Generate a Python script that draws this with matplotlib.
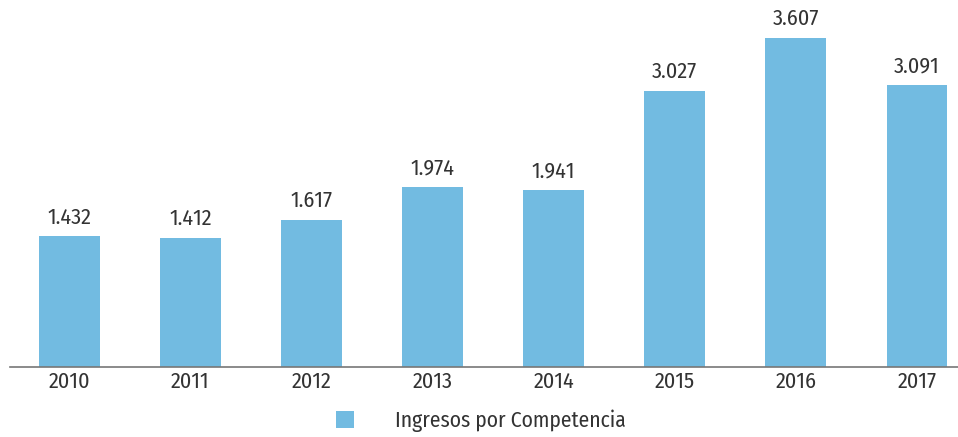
import matplotlib
matplotlib.use("Agg")
import matplotlib.pyplot as plt
from matplotlib.patches import Patch

years = ["2010", "2011", "2012", "2013", "2014", "2015", "2016", "2017"]
ingresos = [1432, 1412, 1617, 1974, 1941, 3027, 3607, 3091]
labels = ["1.432", "1.412", "1.617", "1.974", "1.941", "3.027", "3.607", "3.091"]
serie = "Ingresos por Competencia"

bar_color = "#72bbe1"
text_color = "#333333"

plt.rcParams["font.family"] = ["Fira Sans Condensed", "Roboto Condensed", "DejaVu Sans"]
plt.rcParams["font.weight"] = 400

fig = plt.figure(figsize=(9.58, 4.37), dpi=100)
# axes spans from the left edge of the baseline to the right border
ax = fig.add_axes([10 / 958, 1 - 367 / 437, 948 / 958, 367 / 437])

x = range(len(years))
bars = ax.bar(x, ingresos, width=0.5, color=bar_color)

for b, lab in zip(bars, labels):
    ax.annotate(lab, (b.get_x() + b.get_width() / 2, b.get_height()),
                xytext=(0, 6), textcoords="offset points",
                ha="center", va="bottom", fontsize=16, color=text_color)

ax.set_xlim(-0.49, 7.34)
ax.set_ylim(0, 4024)
ax.set_xticks(list(x))
ax.set_xticklabels(years, fontsize=16, color=text_color)
ax.tick_params(axis="x", length=0, pad=3)
ax.set_yticks([])
for s in ["top", "right", "left"]:
    ax.spines[s].set_visible(False)
ax.spines["bottom"].set_color("#777777")
ax.spines["bottom"].set_linewidth(1.2)

handle = Patch(facecolor=bar_color, edgecolor="none", label=serie)
fig.legend(handles=[handle], loc="center", bbox_to_anchor=(481 / 958, 1 - 421 / 437),
           frameon=False, fontsize=15.5, handlelength=0.85, handleheight=0.85,
           handletextpad=1.9, labelcolor=text_color)

fig.savefig("out.png", dpi=100)
